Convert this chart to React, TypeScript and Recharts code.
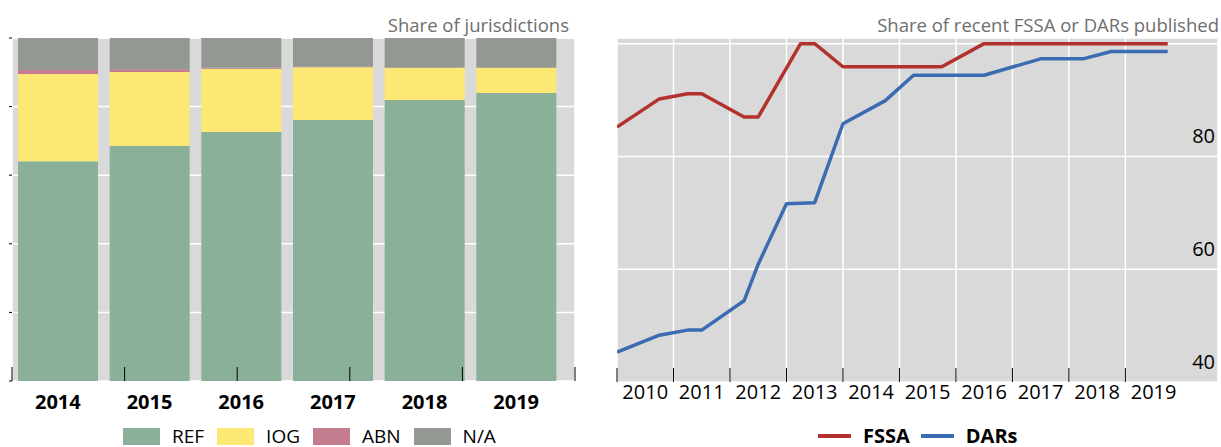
import React from 'react';
import { BarChart, Bar, LineChart, Line, XAxis, YAxis, CartesianGrid, Legend } from 'recharts';

// ---- Left panel: share of jurisdictions ----
const years = ['2014', '2015', '2016', '2017', '2018', '2019'];
const refShare = [64.1, 68.5, 72.6, 76.1, 81.9, 84.0];
const iogShare = [25.4, 21.6, 18.4, 15.4, 9.4, 7.3];
const abnShare = [1.2, 0.8, 0.3, 0.1, 0, 0];
const naShare = [9.3, 9.1, 8.7, 8.4, 8.7, 8.7];
const barYTicks = [0, 20, 40, 60, 80, 100];
const bandIndexTicks = [0, 1, 2, 3, 4, 5, 6];

// ---- Right panel: share of recent FSSA or DARs published ----
const fssaTime = [2010.0, 2010.75, 2011.25, 2011.5, 2012.25, 2012.5, 2013.25, 2013.5, 2014.0, 2015.75, 2016.5, 2019.75];
const fssaValue = [85.2, 90.2, 91.1, 91.1, 87.0, 87.0, 100, 100, 95.9, 95.9, 100, 100];
const darsTime = [2010.0, 2010.75, 2011.25, 2011.5, 2012.25, 2012.5, 2013.0, 2013.5, 2014.0, 2014.75, 2015.25, 2016.5, 2017.5, 2018.25, 2018.75, 2019.75];
const darsValue = [45.3, 48.3, 49.2, 49.2, 54.4, 60.9, 71.6, 71.8, 85.8, 89.9, 94.4, 94.4, 97.3, 97.3, 98.6, 98.6];
const lineYearTicks = [2010, 2011, 2012, 2013, 2014, 2015, 2016, 2017, 2018, 2019];
const lineYearLabelTicks = [2010.5, 2011.5, 2012.5, 2013.5, 2014.5, 2015.5, 2016.5, 2017.5, 2018.5, 2019.5];
const lineYTicks = [40, 60, 80, 100];

const barData = years.map((y, i) => ({ year: y, REF: refShare[i], IOG: iogShare[i], ABN: abnShare[i], NA: naShare[i] }));
const fssaData = fssaTime.map((t, i) => ({ t, v: fssaValue[i] }));
const darsData = darsTime.map((t, i) => ({ t, v: darsValue[i] }));

const COLORS = { REF: '#8bb09a', IOG: '#fde874', ABN: '#c47d8e', NA: '#939892', FSSA: '#b2332e', DARs: '#3b6cb2' };
const BG = '#d9d9d9';
const FONT = '"Open Sans", sans-serif';

const barLegendItems = [
  { key: 'REF', label: 'REF' },
  { key: 'IOG', label: 'IOG' },
  { key: 'ABN', label: 'ABN' },
  { key: 'NA', label: 'N/A' },
];

const BarLegend = () => (
  <div style={{ display: 'flex', alignItems: 'center', height: 22, fontFamily: FONT, fontSize: 19, color: '#000' }}>
    {barLegendItems.map((it) => (
      <div key={it.key} style={{ display: 'flex', alignItems: 'center', marginRight: 13 }}>
        <div style={{ width: 37, height: 17, background: (COLORS as any)[it.key], marginRight: 12 }} />
        <span style={{ lineHeight: '22px' }}>{it.label}</span>
      </div>
    ))}
  </div>
);

const LineLegend = () => (
  <div style={{ display: 'flex', alignItems: 'center', height: 22, fontFamily: FONT, fontSize: 20, fontWeight: 700, color: '#000' }}>
    {[{ k: 'FSSA' }, { k: 'DARs' }].map((it) => (
      <div key={it.k} style={{ display: 'flex', alignItems: 'center', marginRight: 11 }}>
        <div style={{ width: 33, height: 4, background: (COLORS as any)[it.k], marginRight: 12 }} />
        <span style={{ lineHeight: '22px' }}>{it.k}</span>
      </div>
    ))}
  </div>
);

const EmptyTick = () => <g />;

const RightYTick = (props: any) => {
  const { x, y, payload } = props;
  if (payload.value === 100) return <g />;
  return (
    <text x={x - 3} y={y - 13} textAnchor="end" fontSize={20} fill="#000" fontFamily={FONT}>
      {payload.value}
    </text>
  );
};

const yearFloor = (v: number) => String(Math.floor(v));

export default function App() {
  return (
    <div style={{ position: 'absolute', left: 0, top: 0, width: 1221, height: 447, background: '#fff', fontFamily: FONT }}>
      <div style={{ position: 'absolute', right: 652, top: 12, fontSize: 18.5, color: '#6e6e6e', lineHeight: '26px' }}>
        Share of jurisdictions
      </div>
      <div style={{ position: 'absolute', right: 2, top: 12, fontSize: 18.5, color: '#6e6e6e', lineHeight: '26px' }}>
        Share of recent FSSA or DARs published
      </div>

      <div style={{ position: 'absolute', left: 0, top: 0 }}>
        <BarChart width={600} height={447} data={barData} margin={{ top: 38, right: 25, bottom: 0, left: 0 }} barCategoryGap={6}>
          <CartesianGrid fill={BG} stroke="#ffffff" strokeWidth={1.5} xAxisId="grid" />
          <XAxis
            dataKey="year"
            type="category"
            height={44}
            axisLine={false}
            tickLine={false}
            tickSize={0}
            tickMargin={14}
            interval={0}
            padding={{ left: 0, right: 13 }}
            tick={{ fontSize: 20, fontWeight: 700, fill: '#000', fontFamily: FONT }}
          />
          <XAxis
            xAxisId="grid"
            type="number"
            domain={[0, 6.14]}
            ticks={bandIndexTicks}
            allowDataOverflow
            interval={0}
            mirror
            height={1}
            axisLine={false}
            tick={<EmptyTick />}
            tickSize={14}
            tickLine={{ stroke: '#000', strokeWidth: 1 }}
          />
          <YAxis
            type="number"
            domain={[0, 100]}
            ticks={barYTicks}
            interval={0}
            width={12}
            axisLine={false}
            tick={<EmptyTick />}
            tickSize={3}
            tickLine={{ stroke: '#000', strokeWidth: 1 }}
          />
          <Bar dataKey="REF" stackId="s" fill={COLORS.REF} isAnimationActive={false} />
          <Bar dataKey="IOG" stackId="s" fill={COLORS.IOG} isAnimationActive={false} />
          <Bar dataKey="ABN" stackId="s" fill={COLORS.ABN} isAnimationActive={false} />
          <Bar dataKey="NA" name="N/A" stackId="s" fill={COLORS.NA} isAnimationActive={false} />
          <Legend verticalAlign="bottom" content={<BarLegend />} wrapperStyle={{ left: 123, width: 460, height: 22 }} />
        </BarChart>
      </div>

      <div style={{ position: 'absolute', left: 600, top: 0 }}>
        <LineChart width={621} height={447} margin={{ top: 38, right: 3, bottom: 0, left: 17 }}>
          <CartesianGrid fill={BG} stroke="#ffffff" strokeWidth={1.5} />
          <XAxis
            dataKey="t"
            type="number"
            domain={[2010, 2020.64]}
            ticks={lineYearTicks}
            allowDataOverflow
            interval={0}
            mirror
            height={1}
            axisLine={false}
            tick={<EmptyTick />}
            tickSize={14}
            tickLine={{ stroke: '#000', strokeWidth: 1 }}
          />
          <XAxis
            xAxisId="lbl"
            dataKey="t"
            type="number"
            domain={[2010, 2020.64]}
            ticks={lineYearLabelTicks}
            allowDataOverflow
            interval={0}
            height={43}
            axisLine={false}
            tickLine={false}
            tickSize={0}
            tickMargin={3}
            tickFormatter={yearFloor}
            tick={{ fontSize: 20, fill: '#000', fontFamily: FONT }}
          />
          <YAxis
            type="number"
            orientation="right"
            mirror
            width={1}
            domain={[40, 101]}
            ticks={lineYTicks}
            allowDataOverflow
            interval={0}
            axisLine={false}
            tickLine={false}
            tickSize={0}
            tickMargin={0}
            tick={<RightYTick />}
          />
          <Line data={fssaData} dataKey="v" name="FSSA" stroke={COLORS.FSSA} strokeWidth={3.5} dot={false} isAnimationActive={false} strokeLinejoin="round" />
          <Line data={darsData} dataKey="v" name="DARs" stroke={COLORS.DARs} strokeWidth={3.5} dot={false} isAnimationActive={false} strokeLinejoin="round" />
          <Legend verticalAlign="bottom" content={<LineLegend />} wrapperStyle={{ left: 218, width: 300, height: 22 }} />
        </LineChart>
      </div>
    </div>
  );
}
